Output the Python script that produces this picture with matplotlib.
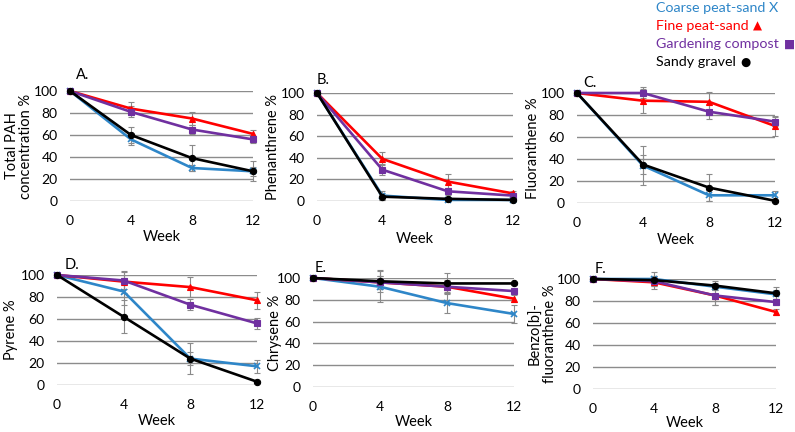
import matplotlib
matplotlib.use("Agg")
import matplotlib.pyplot as plt
import numpy as np

plt.rcParams['font.family'] = ['Lato', 'DejaVu Sans']

weeks = [0, 4, 8, 12]
week_labels = ["0", "4", "8", "12"]
series_names = ["Coarse peat-sand", "Fine peat-sand", "Gardening compost", "Sandy gravel"]

# Panel A: Total PAH
a_coarse = [100, 56, 30, 27]
a_fine = [100, 84, 75, 61]
a_compost = [100, 81, 65, 56]
a_gravel = [100, 60, 39, 27]
a_coarse_err = [0, 5, 3, 4]
a_fine_err = [0, 6, 6, 4]
a_compost_err = [0, 5, 4, 3]
a_gravel_err = [0, 7, 12, 9]

# Panel B: Phenanthrene
b_coarse = [100, 5, 1, 1]
b_fine = [100, 39, 18, 7]
b_compost = [100, 29, 9, 5]
b_gravel = [100, 4, 2, 1]
b_coarse_err = [0, 4, 1, 1]
b_fine_err = [0, 6, 7, 2]
b_compost_err = [0, 5, 3, 2]
b_gravel_err = [0, 3, 1, 1]

# Panel C: Fluoranthene
c_coarse = [100, 34, 7, 7]
c_fine = [100, 93, 92, 70]
c_compost = [100, 100, 83, 74]
c_gravel = [100, 35, 14, 2]
c_coarse_err = [0, 18, 5, 4]
c_fine_err = [0, 11, 9, 9]
c_compost_err = [0, 5, 7, 4]
c_gravel_err = [0, 9, 12, 1]

# Panel D: Pyrene
d_coarse = [100, 85, 24, 17]
d_fine = [100, 94, 89, 77]
d_compost = [100, 95, 73, 56]
d_gravel = [100, 62, 24, 3]
d_coarse_err = [0, 12, 14, 6]
d_fine_err = [0, 10, 9, 8]
d_compost_err = [0, 8, 5, 5]
d_gravel_err = [0, 15, 6, 1]

# Panel E: Chrysene
e_coarse = [100, 92, 77, 67]
e_fine = [100, 96, 92, 81]
e_compost = [100, 96, 92, 88]
e_gravel = [100, 97, 95, 95]
e_coarse_err = [0, 14, 9, 8]
e_fine_err = [0, 6, 6, 3]
e_compost_err = [0, 6, 5, 2]
e_gravel_err = [0, 10, 10, 1]

# Panel F: Benzo[b]fluoranthene
f_coarse = [100, 100, 93, 86]
f_fine = [100, 97, 85, 70]
f_compost = [100, 98, 85, 79]
f_gravel = [100, 99, 94, 87]
f_coarse_err = [0, 6, 3, 4]
f_fine_err = [0, 6, 9, 3]
f_compost_err = [0, 4, 9, 3]
f_gravel_err = [0, 4, 4, 6]

colors = ['#2E86C8', '#FF0000', '#7030A0', '#000000']
markers = ['x', '^', 's', 'o']
msizes = [5, 5, 4.5, 4.5]

panels = [
    ("A.", "Total PAH\nconcentration %", [a_coarse, a_fine, a_compost, a_gravel],
     [a_coarse_err, a_fine_err, a_compost_err, a_gravel_err], (70, 253, 91, 201), (76, 75), 19, 237),
    ("B.", "Phenanthrene %", [b_coarse, b_fine, b_compost, b_gravel],
     [b_coarse_err, b_fine_err, b_compost_err, b_gravel_err], (317, 513, 93, 201), (317, 80), 273, 239),
    ("C.", "Fluoranthene %", [c_coarse, c_fine, c_compost, c_gravel],
     [c_coarse_err, c_fine_err, c_compost_err, c_gravel_err], (577, 775, 93, 203), (583, 83), 533, 240),
    ("D.", "Pyrene %", [d_coarse, d_fine, d_compost, d_gravel],
     [d_coarse_err, d_fine_err, d_compost_err, d_gravel_err], (57, 257, 275, 385), (65, 265), 11, 421),
    ("E.", "Chrysene %", [e_coarse, e_fine, e_compost, e_gravel],
     [e_coarse_err, e_fine_err, e_compost_err, e_gravel_err], (313, 514, 278, 387), (315, 268), 275, 422),
    ("F.", "Benzo[b]-\nfluoranthene %", [f_coarse, f_fine, f_compost, f_gravel],
     [f_coarse_err, f_fine_err, f_compost_err, f_gravel_err], (593, 776, 279, 389), (595, 269), 543, 423),
]

W, H = 795, 432
fig = plt.figure(figsize=(W / 100, H / 100), dpi=100)
fig.patch.set_facecolor('white')

for label, ylab, data, errs, (x0, x1, ytop, ybot), (lx, ly), ylx, wky in panels:
    ax = fig.add_axes([x0 / W, 1 - ybot / H, (x1 - x0) / W, (ybot - ytop) / H])
    ax.set_xlim(0, 12)
    ax.set_ylim(0, 100)
    ax.set_yticks([0, 20, 40, 60, 80, 100])
    ax.set_xticks(weeks)
    ax.set_xticklabels(week_labels)
    for s in ax.spines.values():
        s.set_visible(False)
    ax.yaxis.grid(True, color='#8C8C8C', lw=1.0)
    ax.set_axisbelow(True)
    ax.tick_params(axis='both', length=0, labelsize=10, colors='#000000')
    ax.tick_params(axis='x', pad=10)
    ax.tick_params(axis='y', pad=9)
    for vals, err in zip(data, errs):
        ax.errorbar(weeks, vals, yerr=err, fmt='none', ecolor='#8A8A8A',
                    elinewidth=0.8, capsize=2, capthick=0.8, clip_on=False, zorder=2)
    for vals, c, m, ms in zip(data, colors, markers, msizes):
        ax.plot(weeks, vals, color=c, marker=m, markersize=ms, lw=1.9,
                markeredgewidth=1.2 if m == 'x' else 0.8, clip_on=False, zorder=3)
    fig.text(ylx / W, 1 - (ytop + ybot) / 2 / H, ylab, fontsize=10.5, rotation=90,
             ha='center', va='center', multialignment='center', linespacing=1.05)
    fig.text((x0 + x1) / 2 / W, 1 - wky / H, "Week", fontsize=10.5, ha='center', va='center')
    fig.text(lx / W, 1 - ly / H, label, fontsize=10.5, ha='left', va='center')

# Legend as colored text
leg_x = 656 / W
leg_items = [("Coarse peat-sand X", "", colors[0], 8),
             ("Fine peat-sand ", "\u25B2", colors[1], 26),
             ("Gardening compost ", "\u25A0", colors[2], 44),
             ("Sandy gravel ", "\u25CF", colors[3], 62)]
fig.canvas.draw()
renderer = fig.canvas.get_renderer()
for txt, sym, c, yy in leg_items:
    t = fig.text(leg_x, 1 - yy / H, txt, color=c, fontsize=10.3, ha='left', va='center')
    if sym:
        bb = t.get_window_extent(renderer=renderer)
        fig.text((bb.x1 + 1) / W, 1 - yy / H, sym, color=c, fontsize=8.5,
                 family='DejaVu Sans', ha='left', va='center')

fig.savefig("out.png", dpi=100, facecolor='white')
